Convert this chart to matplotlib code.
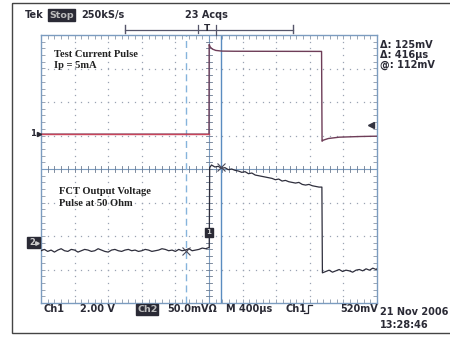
import numpy as np
import matplotlib.pyplot as plt
from matplotlib.patches import Rectangle

# Scope settings
time_per_div = 400.0      # us/div
ch1_per_div = 2.0         # V/div
ch2_per_div = 50.0        # mV/div
ch1_ground = 1.04         # divisions above centre
ch2_ground = -2.18
trig_level = 0.52         # V on ch1
cursor_a = -273.0         # us
cursor_b = 143.0          # us

# Ch1: current pulse (V)
ch1_t = [-2000, 0, 2, 15, 40, 80, 150, 300, 1340, 1346, 1360, 1420, 1550, 1800, 2000]
ch1_v = [0, 0, 5.35, 5.2, 5.08, 5.0, 4.96, 4.95, 4.94, -0.42, -0.36, -0.26, -0.18, -0.14, -0.12]

# Ch2: FCT output (mV), baseline before trigger
ch2_base_t = list(range(-2000, 0, 40)) + [3]
ch2_base_v = [-13, -11, -14, -12, -15, -12, -10, -13, -14, -11,
              -12, -15, -13, -11, -12, -14, -13, -10, -12, -14,
              -15, -12, -11, -13, -14, -12, -11, -13, -12, -14,
              -13, -11, -12, -14, -13, -12, -10, -11, -13, -12,
              -14, -11, -13, -12, -10, -13, -12, -11, -9, -10, -8]
# pulse top
ch2_top_t = [8] + list(range(30, 1340, 40)) + [1344]
ch2_top_v = [111, 115, 112, 113, 110, 111, 108, 109, 107, 106,
             104, 105, 102, 103, 100, 99, 98, 97, 96, 95,
             93, 94, 91, 92, 90, 89, 88, 89, 86, 85,
             86, 84, 83, 82, 82]
# after the pulse
ch2_tail_t = list(range(1350, 2000, 40)) + [2000]
ch2_tail_v = [-46, -44, -42, -45, -43, -41, -44, -42, -43, -45,
              -42, -41, -43, -40, -42, -39, -41, -40]

W, H = 450, 338
fig = plt.figure(figsize=(4.5, 3.38), dpi=100)
fig.patch.set_facecolor('white')

# graticule area in pixels
gx0, gx1, gy0, gy1 = 41, 377, 35, 303
ax = fig.add_axes([gx0 / W, 1 - gy1 / H, (gx1 - gx0) / W, (gy1 - gy0) / H])
ax.set_xlim(-5 * time_per_div, 5 * time_per_div)
ax.set_ylim(-4, 4)
ax.set_facecolor('none')
blue = '#7b9cc0'
for s in ax.spines.values():
    s.set_color(blue)
    s.set_linewidth(1.0)
ax.set_xticks(np.arange(-2000, 2001, 80))
ax.set_yticks(np.arange(-4, 4.01, 0.2))
ax.tick_params(direction='in', length=3, width=0.6, color='#8a98aa',
               top=True, right=True, labelbottom=False, labelleft=False)

# dotted grid
dot = '#9aa3b3'
for gx in np.arange(-1600, 1601, 400):
    if gx == 0:
        continue
    yy = np.arange(-4, 4.01, 0.2)
    ax.plot(np.full_like(yy, gx), yy, ls='none', marker='s', ms=0.9, color=dot, mew=0)
for gy in range(-3, 4):
    if gy == 0:
        continue
    xx = np.arange(-2000, 2001, 80)
    ax.plot(xx, np.full_like(xx, gy, dtype=float), ls='none', marker='s', ms=0.9, color=dot, mew=0)

# centre crosshair with ticks
ax.axhline(0, color=blue, lw=0.8)
ax.axvline(0, color=blue, lw=0.8)
for xx in np.arange(-2000, 2001, 80):
    ax.plot([xx, xx], [-0.09, 0.09], color='#6a7a90', lw=0.6)
for yy in np.arange(-4, 4.01, 0.2):
    ax.plot([-36, 36], [yy, yy], color='#6a7a90', lw=0.6)

# cursors
ax.axvline(cursor_a, color='#86b4dc', lw=1.0, ls=(0, (5, 3)))
ax.axvline(cursor_b, color='#5a8cc0', lw=1.0)

# traces
ch1_y = np.array(ch1_v) / ch1_per_div + ch1_ground
ax.plot(ch1_t, ch1_y, color='#6e3d58', lw=1.0, zorder=5)
ax.plot([-2000, 0], [ch1_ground, ch1_ground], color='#c8445a', lw=1.0, zorder=5)

ch2_t = ch2_base_t + ch2_top_t + ch2_tail_t
ch2_v = ch2_base_v + ch2_top_v + ch2_tail_v
ch2_y = np.array(ch2_v) / ch2_per_div + ch2_ground
ax.plot(ch2_t, ch2_y, color='#2e2e3c', lw=0.9, zorder=6)

# cursor crossings on ch2
ax.plot([cursor_a, cursor_b], [-13 / ch2_per_div + ch2_ground, 112 / ch2_per_div + ch2_ground],
        ls='none', marker='x', ms=6, mew=0.8, color='#4a4a5a', zorder=7)

# trigger level marker on the right edge
ax.plot([1930], [trig_level / ch1_per_div + ch1_ground], marker='<', ms=5, color='#333340', zorder=7)

note = dict(family='Liberation Serif', weight='bold', fontsize=7.6, color='#222', va='center')
ax.text(-1840, 3.43, 'Test Current Pulse', **note)
ax.text(-1840, 3.10, 'Ip = 5mA', **note)
ax.text(-1780, -0.68, 'FCT Output Voltage', **note)
ax.text(-1780, -1.03, 'Pulse at 50 Ohm', **note)

# overlay in pixel coordinates for the screen furniture
ov = fig.add_axes([0, 0, 1, 1], zorder=3)
ov.set_xlim(0, W)
ov.set_ylim(H, 0)
ov.axis('off')
ov.patch.set_alpha(0)

ov.add_patch(Rectangle((12, 3), 445, 330, fill=False, ec='#444', lw=1.0))

txt = dict(family='DejaVu Sans', weight='bold', fontsize=7.0, color='#2a2a35', va='center')
ov.text(25, 15, 'Tek', **txt)
ov.add_patch(Rectangle((48, 9), 27, 12, color='#2a2a35'))
ov.text(49.5, 15, 'Stop', **{**txt, 'color': '#bbbbbb', 'fontsize': 6.8})
ov.text(81, 15, '250kS/s', **txt)
ov.text(185, 15, '23 Acqs', **txt)

# record window bracket
br = '#55556a'
ov.plot([125, 293], [30, 30], color=br, lw=0.9)
ov.plot([125, 125], [25, 33], color=br, lw=1.0)
ov.plot([293, 293], [25, 33], color=br, lw=1.0)
ov.plot([198, 198], [25, 33], color=br, lw=0.9)
ov.plot([216, 216], [25, 35], color=br, lw=0.9)
ov.text(207, 28.5, 'T', **{**txt, 'ha': 'center', 'fontsize': 6.5})

# cursor readouts
ov.text(380, 45, '\u0394: 125mV', **txt)
ov.text(380, 55, '\u0394: 416\u00b5s', **txt)
ov.text(380, 65, '@: 112mV', **txt)

# channel ground markers
ov.text(30, 134, '1', **{**txt, 'fontsize': 6})
ov.plot([38.5], [134], marker='>', ms=3, color='#2a2a35')
ov.add_patch(Rectangle((27, 237), 13, 11, color='#2a2a35'))
ov.text(29, 242.5, '2', **{**txt, 'color': '#cccccc', 'fontsize': 6})
ov.plot([37], [242.5], marker='>', ms=2.5, color='#cccccc')
ov.add_patch(Rectangle((204.5, 228), 8.5, 9, color='#2a2a35'))
ov.text(208.7, 232.5, '1', **{**txt, 'color': '#cccccc', 'fontsize': 5, 'ha': 'center'})

# bottom status line
ov.text(44, 309, 'Ch1', **txt)
ov.text(80, 309, '2.00 V', **txt)
ov.add_patch(Rectangle((136, 303.5), 22, 11, color='#2a2a35'))
ov.text(137.5, 309, 'Ch2', **{**txt, 'color': '#bbbbbb', 'fontsize': 6.8})
ov.text(167, 309, '50.0mV\u03a9', **txt)
ov.text(226, 309, 'M 400\u00b5s', **txt)
ov.text(285, 309, 'Ch1', **txt)
ov.plot([304, 308, 308, 312], [313, 313, 305, 305], color='#2a2a35', lw=0.9)
ov.text(340, 309, '520mV', **txt)
ov.text(380, 312, '21 Nov 2006', **txt)
ov.text(380, 325, '13:28:46', **txt)

fig.savefig('out.png', dpi=100)
